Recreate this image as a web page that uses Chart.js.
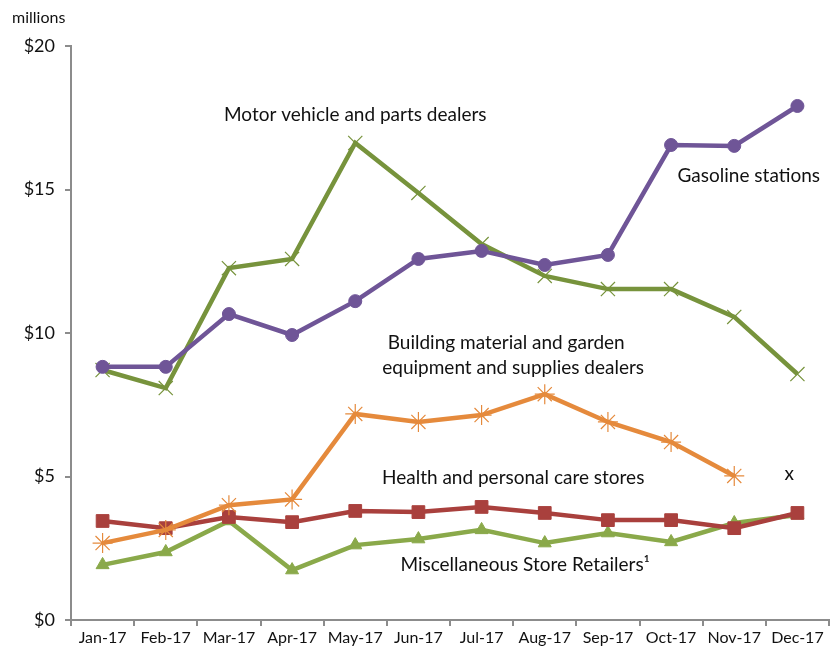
<!DOCTYPE html>
<html lang="en">
<head>
    <meta charset="UTF-8">
    <title>Retail sales by store type, 2017</title>
    <script src="https://cdn.jsdelivr.net/npm/chart.js"></script>
    <style>
        html, body { margin: 0; padding: 0; background: #fff; }
        #chart { display: block; }
    </style>
</head>
<body>
    <canvas id="chart" width="833" height="652"></canvas>

    <script>
        // months and values (millions of dollars)
        const months = ['Jan-17', 'Feb-17', 'Mar-17', 'Apr-17', 'May-17', 'Jun-17',
                        'Jul-17', 'Aug-17', 'Sep-17', 'Oct-17', 'Nov-17', 'Dec-17'];

        const gasoline = [8.82, 8.82, 10.66, 9.93, 11.11, 12.58, 12.86, 12.37, 12.72, 16.55, 16.52, 17.91];
        const motorVehicle = [8.71, 8.08, 12.26, 12.58, 16.62, 14.88, 13.10, 11.99, 11.53, 11.53, 10.56, 8.57];
        const buildingMaterial = [2.68, 3.14, 4.00, 4.20, 7.18, 6.90, 7.14, 7.87, 6.90, 6.20, 5.02, null];
        const healthCare = [3.45, 3.20, 3.59, 3.41, 3.80, 3.76, 3.94, 3.73, 3.48, 3.48, 3.20, 3.73];
        const miscRetail = [1.92, 2.37, 3.45, 1.74, 2.61, 2.82, 3.14, 2.68, 3.03, 2.72, 3.38, 3.66];

        const yTicks = [0, 5, 10, 15, 20];

        // series labels written inside the plot: [text, month index, value]
        const seriesLabels = [
            ['Motor vehicle and parts dealers', 4.0, 17.6],
            ['Gasoline stations', 10.23, 15.47],
            ['Building material and garden', 6.39, 9.65],
            ['equipment and supplies dealers', 6.5, 8.78],
            ['Health and personal care stores', 6.5, 4.95],
            ['Miscellaneous Store Retailers\u00B9', 6.69, 1.92],
            ['x', 10.87, 5.09]
        ];

        const axisGrey = '#8c8c8c';
        const textFont = 'Lato, "Open Sans", sans-serif';

        const labelPlugin = {
            id: 'seriesLabels',
            afterDatasetsDraw(chart) {
                const ctx = chart.ctx;
                const xs = chart.scales.x, ys = chart.scales.y;
                ctx.save();
                ctx.fillStyle = '#111';
                ctx.font = '19px ' + textFont;
                ctx.textBaseline = 'middle';
                ctx.textAlign = 'center';
                seriesLabels.forEach(([text, i, v]) => {
                    ctx.fillText(text, xs.getPixelForValue(i), ys.getPixelForValue(v));
                });
                // unit label above the y axis
                ctx.font = '16px ' + textFont;
                ctx.textAlign = 'left';
                ctx.fillText('millions', 12, 18);
                ctx.restore();
            }
        };

        function series(data, color, style, radius, pointWidth, filled) {
            return {
                data: data,
                borderColor: color,
                backgroundColor: color,
                borderWidth: 4.5,
                pointStyle: style,
                pointRadius: radius,
                pointHoverRadius: radius,
                pointBorderWidth: pointWidth,
                pointBackgroundColor: filled ? color : 'transparent',
                pointBorderColor: color,
                spanGaps: false,
                tension: 0
            };
        }

        new Chart(document.getElementById('chart'), {
            type: 'line',
            data: {
                labels: months,
                datasets: [
                    series(gasoline, '#6f5597', 'circle', 6.5, 1, true),
                    series(motorVehicle, '#77933c', 'crossRot', 10, 1.2, false),
                    series(buildingMaterial, '#e58a3c', 'star', 10, 1.2, false),
                    series(healthCare, '#a9403d', 'rect', 9, 1, true),
                    series(miscRetail, '#8aa94a', 'triangle', 7.5, 1, true)
                ]
            },
            options: {
                responsive: false,
                animation: false,
                devicePixelRatio: 1,
                layout: {
                    autoPadding: false,
                    padding: { left: 0, top: 46, right: 4, bottom: 0 }
                },
                plugins: {
                    legend: { display: false },
                    tooltip: { enabled: false }
                },
                scales: {
                    x: {
                        offset: true,
                        afterFit(s) { s.height = 32; },
                        grid: {
                            offset: true,
                            drawOnChartArea: false,
                            color: axisGrey,
                            lineWidth: 2,
                            tickLength: 6
                        },
                        border: { color: axisGrey, width: 2 },
                        ticks: {
                            color: '#111',
                            font: { family: textFont, size: 16 },
                            maxRotation: 0,
                            autoSkip: false,
                            padding: 2
                        }
                    },
                    y: {
                        min: yTicks[0],
                        max: yTicks[yTicks.length - 1],
                        afterFit(s) { s.width = 71; },
                        afterBuildTicks(s) { s.ticks = yTicks.map(v => ({ value: v })); },
                        grid: {
                            drawOnChartArea: false,
                            color: axisGrey,
                            lineWidth: 2,
                            tickLength: 6
                        },
                        border: { color: axisGrey, width: 2 },
                        ticks: {
                            color: '#111',
                            font: { family: textFont, size: 18 },
                            padding: 10,
                            callback: v => '$' + v
                        }
                    }
                }
            },
            plugins: [labelPlugin]
        });
    </script>
</body>
</html>
